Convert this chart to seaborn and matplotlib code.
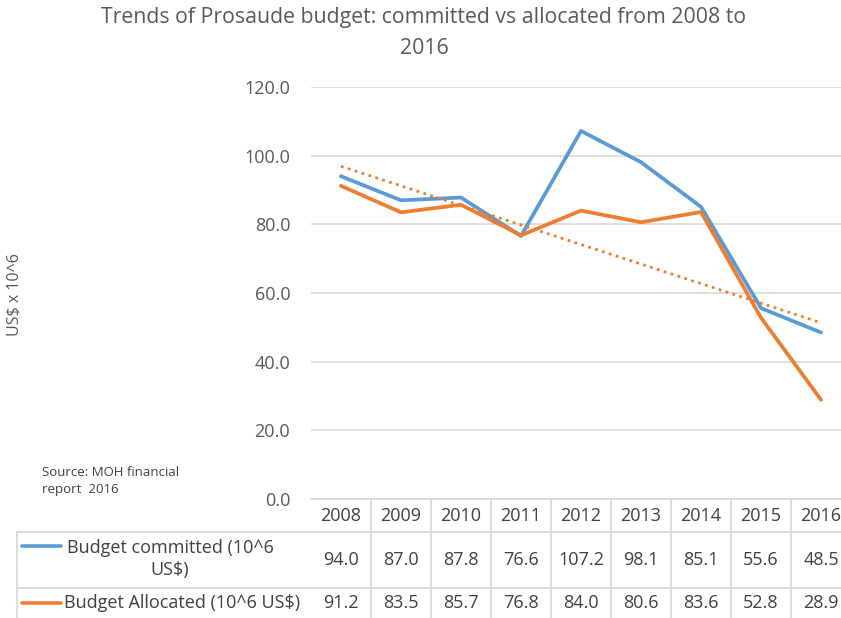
import numpy as np
import pandas as pd
import seaborn as sns
import matplotlib
matplotlib.use("Agg")
import matplotlib.pyplot as plt
from matplotlib.lines import Line2D
from matplotlib.transforms import blended_transform_factory

# ---- data ----
years = ["2008", "2009", "2010", "2011", "2012", "2013", "2014", "2015", "2016"]
committed = [94.0, 87.0, 87.8, 76.6, 107.2, 98.1, 85.1, 55.6, 48.5]
allocated = [91.2, 83.5, 85.7, 76.8, 84.0, 80.6, 83.6, 52.8, 28.9]
series_names = ["Budget committed (10^6 US$)", "Budget Allocated (10^6 US$)"]
row_labels = ["Budget committed (10^6\nUS$)", "Budget Allocated (10^6 US$)"]
yticks = [0, 20, 40, 60, 80, 100, 120]
title = "Trends of Prosaude budget: committed vs allocated from 2008 to\n2016"
ylabel = "US$ x 10^6"
source = "Source: MOH financial\nreport  2016"

BLUE = "#5B9BD5"
ORANGE = "#ED7D31"
GRID = "#D9D9D9"
TXT = "#595959"
TXT2 = "#404040"

sns.set_theme(style="white")
plt.rcParams["font.family"] = ["Open Sans", "DejaVu Sans"]

W, H = 841, 618
fig = plt.figure(figsize=(W / 100, H / 100), dpi=100)

def px(x, y):
    return (x / W, 1 - y / H)

ax = fig.add_axes([311 / W, 119 / H, 540 / W, 412 / H])

idx = np.arange(len(years))
df = pd.DataFrame({
    "x": np.concatenate([idx, idx]),
    "value": committed + allocated,
    "series": [series_names[0]] * len(years) + [series_names[1]] * len(years),
})

sns.lineplot(data=df, x="x", y="value", hue="series",
             palette=[BLUE, ORANGE], linewidth=2.7, legend=False, ax=ax)
sns.regplot(x=idx, y=np.array(allocated), scatter=False, ci=None, ax=ax,
            line_kws=dict(color=ORANGE, linestyle=(0, (1, 1.6)), linewidth=2.0))

ax.set_xlim(-0.5, len(years) - 0.5)
ax.set_ylim(0, 120)
ax.set_yticks(yticks)
ax.set_yticklabels([f"{v:.1f}" for v in yticks], fontsize=13, color=TXT)
ax.set_xticks([])
ax.set_xlabel("")
ax.set_ylabel("")
ax.tick_params(axis="y", length=0, pad=15)
ax.grid(axis="y", color=GRID, linewidth=1.2)
ax.set_axisbelow(True)
for s in ax.spines.values():
    s.set_visible(False)

# y label
fig.text(*px(15, 295), ylabel, rotation=90, ha="center", va="center",
         fontsize=11.5, color=TXT)

# title
fig.text(*px(424, 33), title, ha="center", va="center", fontsize=15.3,
         color=TXT, linespacing=1.62, multialignment="center")

# source note
fig.text(*px(42, 481), source, ha="left", va="center", fontsize=9.5,
         color=TXT2, linespacing=1.45)

# ---- data table below the axes ----
bt = blended_transform_factory(ax.transData, fig.transFigure)
tf = fig.transFigure

def hline(x0, x1, y):
    fig.add_artist(Line2D([x0 / W, x1 / W], [1 - y / H, 1 - y / H],
                          transform=tf, color=GRID, linewidth=1.3))

def vline_data(xd, y0, y1):
    fig.add_artist(Line2D([xd, xd], [1 - y0 / H, 1 - y1 / H],
                          transform=bt, color=GRID, linewidth=1.3))

hline(311, 841, 499)
hline(17, 841, 532)
hline(17, 841, 588)
fig.add_artist(Line2D([17 / W, 17 / W], [1 - 532 / H, 0], transform=tf,
                      color=GRID, linewidth=1.3))
for i in range(len(years) - 1):
    vline_data(i + 0.5, 499, H)

for i, yr in enumerate(years):
    fig.text(i, 1 - 516 / H, yr, transform=bt, ha="center", va="center",
             fontsize=13, color=TXT2)
    fig.text(i, 1 - 560 / H, f"{committed[i]:.1f}", transform=bt, ha="center",
             va="center", fontsize=13, color=TXT2)
    fig.text(i, 1 - 603 / H, f"{allocated[i]:.1f}", transform=bt, ha="center",
             va="center", fontsize=13, color=TXT2)

# row headers with legend keys
fig.add_artist(Line2D([22 / W, 61 / W], [1 - 546 / H] * 2, transform=tf,
                      color=BLUE, linewidth=2.6))
fig.add_artist(Line2D([22 / W, 61 / W], [1 - 603 / H] * 2, transform=tf,
                      color=ORANGE, linewidth=2.6))
fig.text(*px(170, 559), row_labels[0], ha="center", va="center", fontsize=13,
         color=TXT2, multialignment="center", linespacing=1.25)
fig.text(*px(64, 603), row_labels[1], ha="left", va="center", fontsize=13,
         color=TXT2)

fig.savefig("out.png", dpi=100)
